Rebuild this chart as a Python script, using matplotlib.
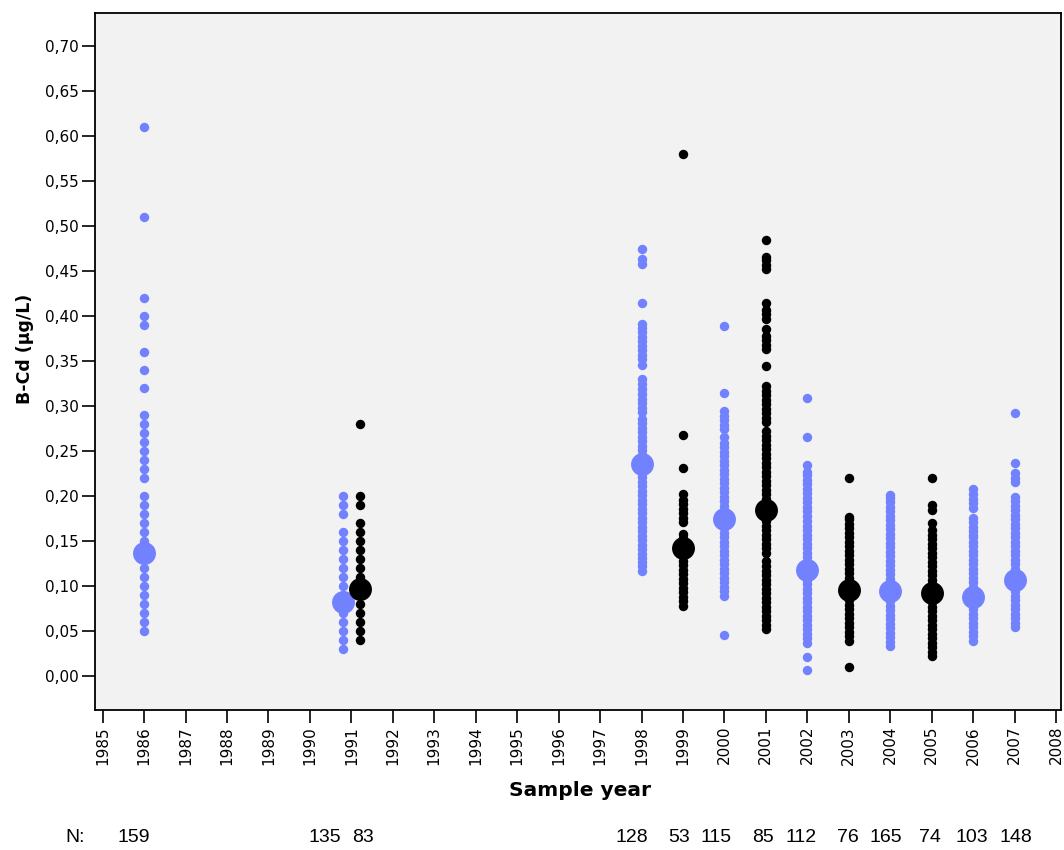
import numpy as np
import matplotlib
matplotlib.use("Agg")
import matplotlib.pyplot as plt
import matplotlib.transforms as mtransforms

# ---------------- data ----------------
years = [1986, 1991, 1991, 1998, 1999, 2000, 2001, 2002, 2003, 2004, 2005, 2006, 2007]
groups = ["blue", "blue", "black", "blue", "black", "blue", "black",
          "blue", "black", "blue", "black", "blue", "blue"]
n_counts = [159, 135, 83, 128, 53, 115, 85, 112, 76, 165, 74, 103, 148]
centers = [0.137, 0.082, 0.097, 0.236, 0.142, 0.174, 0.184, 0.118, 0.096,
           0.094, 0.092, 0.088, 0.107]

v1986 = [0.05, 0.06, 0.07, 0.08, 0.09, 0.10, 0.11, 0.12, 0.13, 0.14, 0.15, 0.16,
         0.17, 0.18, 0.19, 0.20, 0.22, 0.23, 0.24, 0.25, 0.26, 0.27, 0.28, 0.29,
         0.32, 0.34, 0.36, 0.39, 0.40, 0.42, 0.51, 0.61]
v1991a = [0.03, 0.04, 0.05, 0.06, 0.07, 0.08, 0.09, 0.10, 0.11, 0.12, 0.13, 0.14,
          0.15, 0.16, 0.18, 0.19, 0.20]
v1991b = [0.04, 0.05, 0.06, 0.07, 0.08, 0.09, 0.10, 0.11, 0.12, 0.13, 0.14, 0.15,
          0.16, 0.17, 0.19, 0.20, 0.28]
v1998 = [0.117, 0.122, 0.127,
         0.131, 0.136, 0.141, 0.146, 0.151, 0.156, 0.161, 0.166, 0.171, 0.176,
         0.181, 0.186, 0.191, 0.196, 0.201, 0.206, 0.211, 0.216, 0.221, 0.226,
         0.231, 0.236, 0.241, 0.246, 0.251, 0.256, 0.261, 0.266, 0.271, 0.276,
         0.281, 0.286,
         0.293, 0.298, 0.303, 0.308, 0.313,
         0.319, 0.324, 0.330,
         0.346,
         0.352, 0.357, 0.362, 0.367, 0.372, 0.377,
         0.382, 0.387, 0.391,
         0.414,
         0.458, 0.463,
         0.475]
v1999 = [0.078, 0.083, 0.088, 0.093, 0.098, 0.103, 0.108, 0.113, 0.118, 0.123,
         0.128, 0.133, 0.138, 0.143, 0.148, 0.153, 0.158,
         0.171, 0.176, 0.181, 0.186, 0.191, 0.196, 0.202,
         0.231, 0.268, 0.580]
v2000 = [0.045,
         0.089, 0.094, 0.099, 0.104, 0.109, 0.114, 0.119, 0.124, 0.129, 0.134,
         0.139, 0.144, 0.149, 0.154, 0.159, 0.164, 0.169, 0.174, 0.179, 0.184,
         0.189, 0.194, 0.199, 0.204, 0.209, 0.214, 0.219, 0.224, 0.229, 0.234,
         0.239, 0.244, 0.249, 0.254, 0.259, 0.265,
         0.274, 0.279, 0.284, 0.289, 0.295,
         0.314, 0.389]
v2001 = [0.052, 0.057, 0.062, 0.067, 0.072, 0.077, 0.082, 0.087, 0.092, 0.097,
         0.102, 0.107, 0.112, 0.117, 0.122, 0.128,
         0.137, 0.142, 0.147, 0.152, 0.157, 0.162, 0.167, 0.172, 0.177, 0.182,
         0.187, 0.192, 0.197, 0.202, 0.207, 0.212, 0.217, 0.222, 0.227, 0.232,
         0.237, 0.242, 0.247, 0.252, 0.257, 0.262, 0.267, 0.272,
         0.282, 0.287, 0.292, 0.297, 0.302, 0.307, 0.312, 0.317, 0.322,
         0.344,
         0.363, 0.368, 0.373, 0.378, 0.386,
         0.397, 0.402, 0.407, 0.415,
         0.452, 0.457, 0.462, 0.466,
         0.484]
v2002 = [0.007, 0.021,
         0.037, 0.042, 0.047, 0.052, 0.057, 0.062, 0.067, 0.072, 0.077, 0.082,
         0.087, 0.092, 0.097, 0.102, 0.107, 0.112, 0.117, 0.122, 0.127, 0.132,
         0.137, 0.142, 0.147, 0.152, 0.157, 0.162, 0.167, 0.172,
         0.178, 0.183, 0.188, 0.193, 0.198, 0.203, 0.208, 0.213, 0.218, 0.223,
         0.227,
         0.234, 0.266, 0.309]
v2003 = [0.010,
         0.039, 0.044, 0.049, 0.054, 0.059, 0.064, 0.069, 0.074, 0.079, 0.084,
         0.089, 0.094, 0.099, 0.104, 0.109, 0.114, 0.119, 0.124, 0.129, 0.134,
         0.139, 0.144, 0.149, 0.154, 0.159, 0.164, 0.169, 0.174, 0.177,
         0.220]
v2004 = [0.033, 0.038, 0.043, 0.048, 0.053, 0.058, 0.063, 0.068, 0.073, 0.078,
         0.083, 0.088, 0.093, 0.098, 0.103, 0.108, 0.113, 0.118, 0.123, 0.128,
         0.133, 0.138, 0.143, 0.148, 0.153, 0.158, 0.163, 0.168, 0.173, 0.178,
         0.183, 0.188, 0.193, 0.198, 0.201]
v2005 = [0.022, 0.027, 0.032, 0.037, 0.042, 0.047, 0.052, 0.057, 0.062, 0.067,
         0.072, 0.077, 0.082, 0.087, 0.092, 0.097, 0.102, 0.107, 0.112, 0.117,
         0.122, 0.127, 0.132, 0.137, 0.142, 0.147, 0.152, 0.157, 0.162,
         0.170, 0.184, 0.190, 0.220]
v2006 = [0.039, 0.044, 0.049, 0.054, 0.059, 0.064, 0.069, 0.074, 0.079, 0.084,
         0.089, 0.094, 0.099, 0.104, 0.109, 0.114, 0.119, 0.124, 0.129, 0.134,
         0.139, 0.144, 0.149, 0.154, 0.157,
         0.161, 0.166, 0.171, 0.176,
         0.187, 0.192, 0.197, 0.202, 0.208]
v2007 = [0.054, 0.059, 0.064, 0.069, 0.074, 0.079, 0.084, 0.089, 0.094, 0.099,
         0.104, 0.109, 0.114, 0.119, 0.124, 0.129, 0.134, 0.139, 0.144, 0.149,
         0.154, 0.159, 0.164, 0.169, 0.174, 0.179, 0.184, 0.189, 0.194, 0.199,
         0.215, 0.220, 0.225, 0.237, 0.292]

columns = [v1986, v1991a, v1991b, v1998, v1999, v2000, v2001, v2002, v2003,
           v2004, v2005, v2006, v2007]

year_ticks = list(range(1985, 2009))
y_ticks = [0.00, 0.05, 0.10, 0.15, 0.20, 0.25, 0.30, 0.35, 0.40, 0.45, 0.50,
           0.55, 0.60, 0.65, 0.70]

# ---------------- style ----------------
W, H = 1064, 850
colors = {"blue": "#7282FF", "black": "#000000"}
dodge = [0, -0.2, 0.2, 0, 0, 0, 0, 0, 0, 0, 0, 0, 0]
# horizontal nudge of each N label (pixels), as in the original layout
n_nudge = [-10, -18, 3, -10, -4, -8, -3, -6, -1, -4, -2, -1, 1]

plt.rcParams['font.family'] = ['DejaVu Sans']
fig = plt.figure(figsize=(W / 100, H / 100), dpi=100)
fig.patch.set_facecolor("white")
ax = fig.add_axes([95 / W, 1 - 710 / H, (1061 - 95) / W, (710 - 13) / H])
ax.set_facecolor("#F2F2F2")

for yr, dx, grp, vals, cen in zip(years, dodge, groups, columns, centers):
    c = colors[grp]
    xs = np.full(len(vals), yr + dx)
    ax.plot(xs, vals, linestyle="none", marker="o", markersize=6.8,
            color=c, markeredgewidth=0, zorder=3)
    ax.plot([yr + dx], [cen], linestyle="none", marker="o", markersize=16.5,
            color=c, markeredgewidth=0, zorder=4)

ax.set_xlim(1984.815, 2008.12)
ax.set_ylim(-0.0378, 0.7367)

ax.set_xticks(year_ticks)
ax.set_xticklabels([str(y) for y in year_ticks], rotation=90, fontsize=11)
ax.set_yticks(y_ticks)
ax.set_yticklabels([f"{v:.2f}".replace(".", ",") for v in y_ticks], fontsize=11)
ax.tick_params(axis="both", length=9.5, width=1.2, color="black", pad=2)

for s in ax.spines.values():
    s.set_linewidth(1.3)
    s.set_color("black")

fig.text(580 / W, 1 - 790 / H, "Sample year", ha="center", va="center",
         fontsize=14.5, fontweight="bold")
fig.text(25 / W, 1 - 349 / H, "B-Cd (µg/L)", ha="center", va="center",
         rotation=90, fontsize=12.5, fontweight="bold")

# N row
base = mtransforms.blended_transform_factory(ax.transData, fig.transFigure)
fig.text(65 / W, 1 - 838 / H, "N:", ha="left", va="center", fontsize=14,
         family="Liberation Sans")
for yr, dx, n, nud in zip(years, dodge, n_counts, n_nudge):
    tr = base + mtransforms.ScaledTranslation(nud / 100, 0, fig.dpi_scale_trans)
    ax.text(yr + dx, 1 - 838 / H, str(n), transform=tr, ha="center",
            va="center", fontsize=14, family="Liberation Sans", clip_on=False)

fig.savefig("out.png", dpi=100)
